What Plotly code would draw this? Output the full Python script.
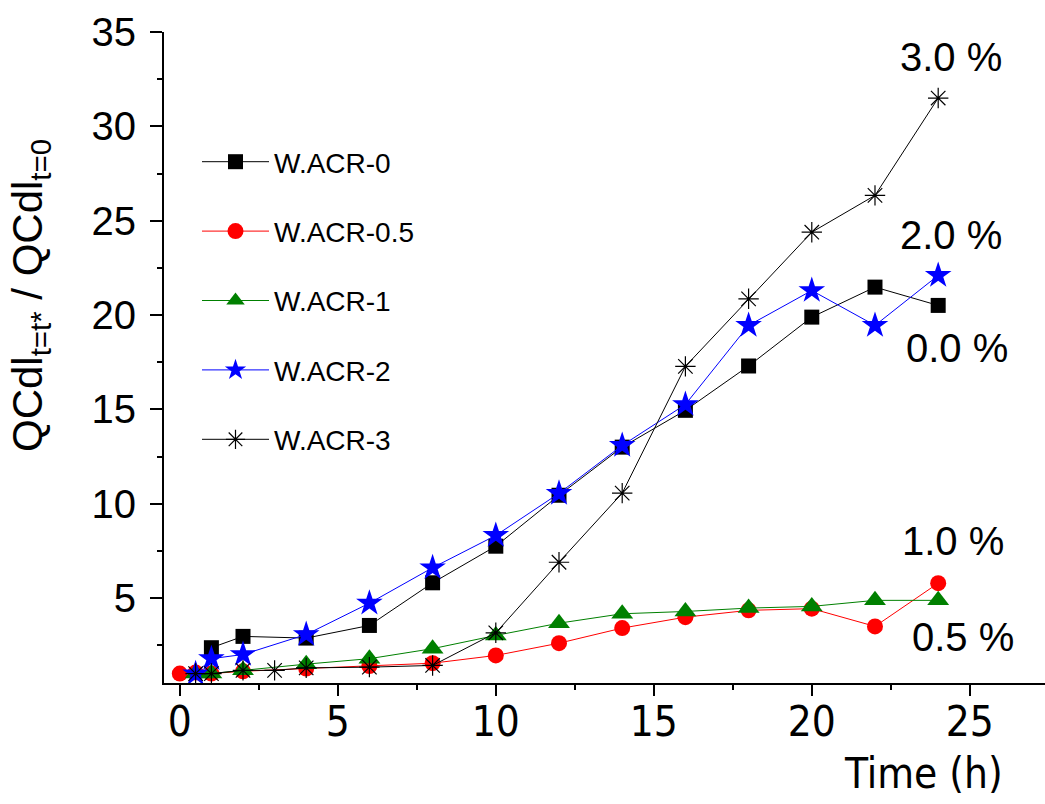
import plotly.graph_objects as go

# ---- data ----
t_acr0 = [1, 2, 4, 6, 8, 10, 12, 14, 16, 18, 20, 22, 24]
y_acr0 = [2.37, 2.97, 2.88, 3.55, 5.81, 7.75, 10.45, 13.0, 14.95, 17.3, 19.89, 21.48, 20.51]

t_acr05 = [0, 0.5, 1, 2, 4, 6, 8, 10, 12, 14, 16, 18, 20, 22, 24]
y_acr05 = [1.0, 1.05, 1.0, 1.12, 1.27, 1.4, 1.55, 1.96, 2.61, 3.41, 3.99, 4.35, 4.44, 3.5, 5.79]

t_acr1 = [0.5, 1, 2, 4, 6, 8, 10, 12, 14, 16, 18, 20, 22, 24]
y_acr1 = [1.0, 1.0, 1.17, 1.5, 1.79, 2.32, 3.02, 3.67, 4.17, 4.29, 4.47, 4.56, 4.88, 4.88]

t_acr2 = [0.5, 1, 2, 4, 6, 8, 10, 12, 14, 16, 18, 20, 22, 24]
y_acr2 = [0.99, 1.79, 2.01, 3.07, 4.73, 6.61, 8.32, 10.55, 13.09, 15.26, 19.45, 21.3, 19.45, 22.1]

t_acr3 = [0.5, 1, 2, 3, 4, 6, 8, 10, 12, 14, 16, 18, 20, 22, 24]
y_acr3 = [1.0, 1.0, 1.17, 1.17, 1.3, 1.34, 1.43, 3.16, 6.9, 10.56, 17.28, 20.86, 24.39, 26.34, 31.5]

series_names = ["W.ACR-0", "W.ACR-0.5", "W.ACR-1", "W.ACR-2", "W.ACR-3"]
pct_labels = ["3.0 %", "2.0 %", "0.0 %", "1.0 %", "0.5 %"]
x_ticks = [0, 5, 10, 15, 20, 25]
y_ticks = [5, 10, 15, 20, 25, 30, 35]

FONT = "Liberation Sans, Arial, sans-serif"
NARROW = "Liberation Sans Narrow, Arial Narrow, DejaVu Sans Condensed, Liberation Sans, sans-serif"

# plot-area geometry in page pixels
L, T, W, H = 164, 32, 881, 651

styles = [
    dict(color="#000000", symbol="square", size=15),
    dict(color="#ff0000", symbol="circle", size=16),
    dict(color="#008000", symbol="triangle-up", size=19),
    dict(color="#0000ff", symbol="star", size=20),
    dict(color="#000000", symbol="asterisk-open", size=17),
]
data = [(t_acr0, y_acr0), (t_acr05, y_acr05), (t_acr1, y_acr1), (t_acr2, y_acr2), (t_acr3, y_acr3)]

fig = go.Figure()
for i, ((xs, ys), name, st) in enumerate(zip(data, series_names, styles)):
    marker = dict(symbol=st["symbol"], size=st["size"], color=st["color"])
    if st["symbol"] == "asterisk-open":
        marker["line"] = dict(color=st["color"], width=1.2)
    else:
        marker["line"] = dict(width=0)
    fig.add_trace(go.Scatter(
        x=xs, y=ys, name=name, mode="lines+markers",
        line=dict(color=st["color"], width=1),
        marker=marker, legendgroup=f"g{i}",
    ))

# percentage labels
pct_pos = [(24.42, 33.7), (24.42, 24.22), (24.58, 18.23), (24.47, 8.05), (24.79, 2.93)]
for lab, (px, py) in zip(pct_labels, pct_pos):
    fig.add_annotation(x=px, y=py, xref="x", yref="y", text=lab, showarrow=False,
                       font=dict(family=FONT, size=40, color="black"),
                       xanchor="center", yanchor="middle")

def paper_x(px):
    return (px - L) / W

def paper_y(py):
    return (T + H - py) / H

# axis titles placed like the reference
fig.add_annotation(x=paper_x(923), y=paper_y(773), xref="paper", yref="paper",
                   text="Time (h)", showarrow=False,
                   font=dict(family=NARROW, size=42, color="black"),
                   xanchor="center", yanchor="middle")
fig.add_annotation(x=paper_x(30), y=paper_y(296), xref="paper", yref="paper",
                   text="QCdl<sub>t=t*</sub> / QCdl<sub>t=0</sub>", textangle=-90,
                   showarrow=False, font=dict(family=FONT, size=42, color="black"),
                   xanchor="center", yanchor="middle")

fig.update_layout(
    width=1045, height=804,
    margin=dict(l=L, r=1045 - L - W, t=T, b=804 - T - H, autoexpand=False),
    paper_bgcolor="white", plot_bgcolor="white",
    showlegend=True,
    legend=dict(x=paper_x(197), y=paper_y(137), xanchor="left", yanchor="top",
                font=dict(family=FONT, size=28, color="black"),
                bgcolor="rgba(0,0,0,0)", traceorder="grouped", tracegroupgap=30,
                itemwidth=67),
    xaxis=dict(range=[-0.5, 27.38], tickvals=x_ticks, ticks="outside", ticklen=11, tickwidth=2,
               tickcolor="black", showline=True, linewidth=2, linecolor="black",
               showgrid=False, zeroline=False,
               tickfont=dict(family=NARROW, size=42, color="black"),
               minor=dict(dtick=2.5, tick0=0, ticks="outside", ticklen=5, tickwidth=2, tickcolor="black"),
               ticklabelstandoff=-10),
    yaxis=dict(range=[0.5, 35], tickvals=y_ticks, ticks="outside", ticklen=12, tickwidth=2,
               tickcolor="black", showline=True, linewidth=2, linecolor="black",
               showgrid=False, zeroline=False,
               tickfont=dict(family=FONT, size=40, color="black"),
               minor=dict(dtick=2.5, tick0=0, ticks="outside", ticklen=5, tickwidth=2, tickcolor="black"),
               ticklabelstandoff=6),
)

fig.write_html("out.html", config={"displayModeBar": False},
               post_script="document.body.style.margin='0px';")
